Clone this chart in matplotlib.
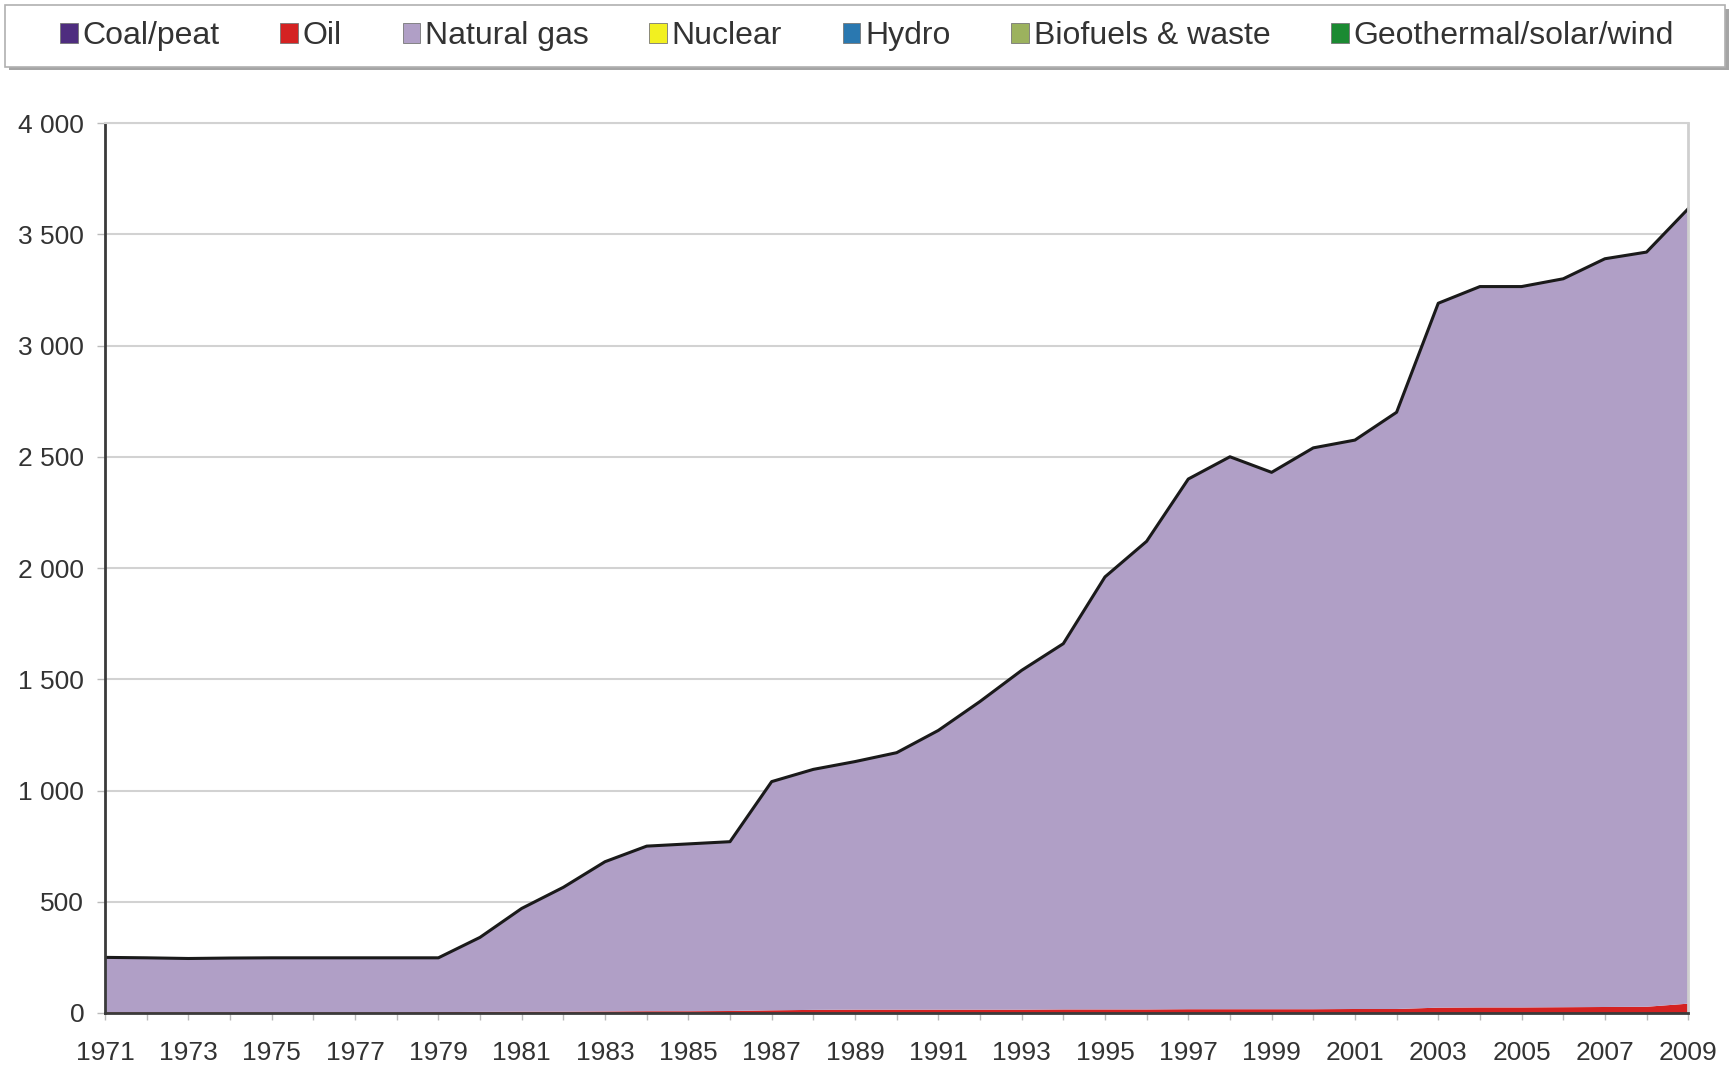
import numpy as np
import matplotlib
matplotlib.use("Agg")
import matplotlib.pyplot as plt
from matplotlib.patches import Rectangle, Patch
from matplotlib.ticker import FuncFormatter, MultipleLocator

plt.rcParams['font.family'] = ['Liberation Sans', 'DejaVu Sans']

years = np.arange(1971, 2010)

# values (TWh)
gas_total = [250, 248, 245, 247, 248, 248, 248, 248, 248, 340,
             470, 565, 680, 750, 760, 770, 1040, 1095, 1130, 1170,
             1270, 1400, 1540, 1660, 1960, 2120, 2400, 2500, 2430, 2540,
             2575, 2700, 3190, 3265, 3265, 3300, 3390, 3420, 3615]
oil = [3, 3, 3, 3, 3, 3, 3, 3, 4, 5,
       6, 6, 7, 8, 8, 9, 12, 14, 15, 15,
       15, 15, 15, 16, 16, 16, 17, 17, 17, 17,
       18, 18, 24, 25, 25, 26, 27, 28, 42]
coal = [0] * len(years)
nuclear = [0] * len(years)
hydro = [0] * len(years)
biofuels = [0] * len(years)
geo = [0] * len(years)

labels = ['Coal/peat', 'Oil', 'Natural gas', 'Nuclear', 'Hydro',
          'Biofuels & waste', 'Geothermal/solar/wind']
colors = ['#4e2d7f', '#d42222', '#b09fc6', '#f2f020', '#2a78b0', '#9cb25e', '#1b8a32']

gas = np.array(gas_total) - np.array(oil)
series = [coal, oil, gas, nuclear, hydro, biofuels, geo]

fig = plt.figure(figsize=(17.34, 10.68), dpi=100)
ax = fig.add_axes([0.0606, 0.0515, 0.913, 0.8333])

ax.stackplot(years, *series, colors=colors, linewidth=0)
total = np.sum(series, axis=0)
ax.plot(years, total, color='#1a1a1a', lw=2.2, solid_joinstyle='round')

ax.set_xlim(1971, 2009)
ax.set_ylim(0, 4000)
ax.yaxis.set_major_locator(MultipleLocator(500))
ax.yaxis.set_major_formatter(FuncFormatter(lambda v, p: f'{int(v):,}'.replace(',', ' ')))
ax.set_xticks(years[::2])
ax.set_xticks(years, minor=True)
ax.grid(axis='y', color='#d2d2d2', lw=1.5)
ax.set_axisbelow(True)

ax.tick_params(axis='y', labelsize=19, colors='#333333', length=6, width=1, pad=9,
               color='#bbbbbb')
ax.tick_params(axis='x', which='both', labelsize=19, colors='#333333', length=5,
               width=1, pad=15, color='#bbbbbb')

for s in ['left', 'bottom']:
    ax.spines[s].set_color('#3a3a3a')
    ax.spines[s].set_linewidth(2)
ax.spines['right'].set_color('#cfcfcf')
ax.spines['right'].set_linewidth(2)
ax.spines['top'].set_color('#d2d2d2')
ax.spines['top'].set_linewidth(1.5)
ax.spines['bottom'].set_zorder(5)

# legend box along the top
fig.patches.append(Rectangle((0.005, 0.934), 0.992, 0.058, transform=fig.transFigure,
                             facecolor='#a5a5a5', edgecolor='none', zorder=0))
fig.patches.append(Rectangle((0.003, 0.937), 0.992, 0.058, transform=fig.transFigure,
                             facecolor='white', edgecolor='#b0b0b0', lw=1.2, zorder=1))

handles = [Patch(facecolor=c, edgecolor='#777777', lw=0.6) for c in colors]
leg = fig.legend(handles, labels, loc='center', bbox_to_anchor=(0.5, 0.966), ncol=7,
                 frameon=False, fontsize=23, handlelength=0.55, handleheight=0.55,
                 handletextpad=0.15, columnspacing=1.9)
for t in leg.get_texts():
    t.set_color('#333333')

fig.savefig('out.png', dpi=100)
